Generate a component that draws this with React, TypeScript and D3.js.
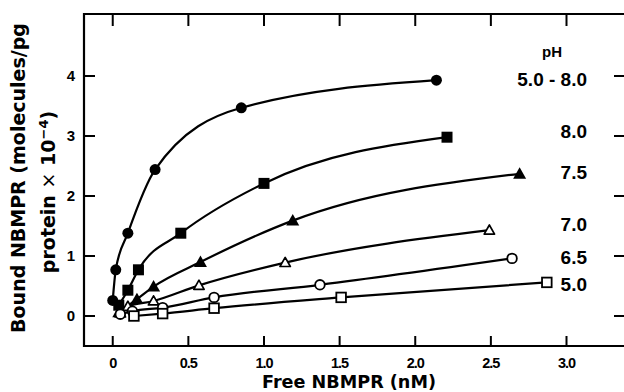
import React from "react";
import * as d3 from "d3";

// bound vs free NBMPR at different pH
const xTicks = [0, 0.5, 1.0, 1.5, 2.0, 2.5, 3.0];
const xTickLabels = ["0", "0.5", "1.0", "1.5", "2.0", "2.5", "3.0"];
const yTicks = [0, 1, 2, 3, 4];

const ph5to8 = [[0.0, 0.26], [0.02, 0.77], [0.10, 1.38], [0.28, 2.44], [0.85, 3.47], [2.14, 3.93]];
const ph80 = [[0.04, 0.18], [0.10, 0.43], [0.17, 0.77], [0.45, 1.38], [1.00, 2.21], [2.21, 2.98]];
const ph75 = [[0.04, 0.06], [0.16, 0.28], [0.27, 0.49], [0.58, 0.90], [1.19, 1.59], [2.69, 2.37]];
const ph70 = [[0.05, 0.05], [0.10, 0.16], [0.27, 0.25], [0.57, 0.51], [1.14, 0.89], [2.49, 1.43]];
const ph65 = [[0.05, 0.03], [0.13, 0.08], [0.33, 0.14], [0.67, 0.31], [1.37, 0.52], [2.64, 0.96]];
const ph50 = [[0.14, 0.0], [0.33, 0.04], [0.67, 0.13], [1.51, 0.31], [2.87, 0.56]];

const series = [ph5to8, ph80, ph75, ph70, ph65, ph50];
const markers = ["filledCircle", "filledSquare", "filledTriangle", "openTriangle", "openCircle", "openSquare"];
const legendLabels = ["5.0 - 8.0", "8.0", "7.5", "7.0", "6.5", "5.0"];
const legendBaselines = [86, 138, 179, 231, 264, 291];

const width = 624;
const height = 392;
const frame = { left: 84, top: 14, right: 627, bottom: 346 };
const font = "'Liberation Sans', Arial, Helvetica, sans-serif";
const titleFont = "'DejaVu Sans', Verdana, sans-serif";

const Marker = ({ kind, x, y }: { kind: string; x: number; y: number }) => {
    if (kind === "filledCircle") return <circle cx={x} cy={y} r={5.5} fill="black" />;
    if (kind === "openCircle") return <circle cx={x} cy={y} r={4.8} fill="white" stroke="black" strokeWidth={1.8} />;
    if (kind === "filledSquare") return <rect x={x - 5.5} y={y - 5.5} width={11} height={11} fill="black" />;
    if (kind === "openSquare") return <rect x={x - 4.8} y={y - 4.8} width={9.6} height={9.6} fill="white" stroke="black" strokeWidth={1.8} />;
    const s = kind === "filledTriangle" ? 6.5 : 5.2;
    const pts = `${x},${y - s} ${x - s},${y + s * 0.75} ${x + s},${y + s * 0.75}`;
    if (kind === "filledTriangle") return <polygon points={pts} fill="black" />;
    return <polygon points={pts} fill="white" stroke="black" strokeWidth={1.7} strokeLinejoin="round" />;
};

const App = () => {
    const xScale = d3.scaleLinear().domain([-0.19, 3.4]).range([frame.left, frame.right]);
    const yScale = d3.scaleLinear().domain([-0.5, 5]).range([frame.bottom, frame.bottom - 330]);

    const line = d3.line<number[]>()
        .x(d => xScale(d[0]))
        .y(d => yScale(d[1]))
        .curve(d3.curveMonotoneX);

    return (
        <div style={{ position: "absolute", left: 0, top: 0 }}>
            <svg width={width} height={height} style={{ display: "block", background: "white" }}>
                {/* frame */}
                <path
                    d={`M${frame.right},${frame.top} H${frame.left} V${frame.bottom} H${frame.right}`}
                    fill="none" stroke="black" strokeWidth={2.2}
                />
                {xTicks.map(t => (
                    <g key={"xt" + t}>
                        <line x1={xScale(t)} x2={xScale(t)} y1={frame.bottom} y2={frame.bottom - 10} stroke="black" strokeWidth={2} />
                        <line x1={xScale(t)} x2={xScale(t)} y1={frame.top} y2={frame.top + 12} stroke="black" strokeWidth={2} />
                    </g>
                ))}
                {yTicks.map(t => (
                    <g key={"yt" + t}>
                        <line x1={frame.left} x2={frame.left + 11} y1={yScale(t)} y2={yScale(t)} stroke="black" strokeWidth={2} />
                        <line x1={614} x2={frame.right} y1={yScale(t)} y2={yScale(t)} stroke="black" strokeWidth={2} />
                        <text x={75} y={yScale(t) + 5} textAnchor="end" fontFamily={font} fontWeight="bold" fontSize={15}>{t}</text>
                    </g>
                ))}
                {xTicks.map((t, i) => (
                    <text key={"xl" + t} x={xScale(t)} y={368} textAnchor="middle" fontFamily={font} fontWeight="bold" fontSize={14.5} letterSpacing={-1}>
                        {xTickLabels[i]}
                    </text>
                ))}

                {/* curves */}
                {series.map((s, i) => (
                    <path key={"l" + i} d={line(s) || ""} fill="none" stroke="black" strokeWidth={2.2} />
                ))}
                {series.map((s, i) => s.map((d, j) => (
                    <Marker key={`m${i}-${j}`} kind={markers[i]} x={xScale(d[0])} y={yScale(d[1])} />
                )))}

                {/* legend */}
                <text x={552} y={57} textAnchor="middle" fontFamily={font} fontWeight="bold" fontSize={15}>pH</text>
                {legendLabels.map((l, i) => (
                    <text key={"lg" + i} x={587} y={legendBaselines[i]} textAnchor="end" fontFamily={font} fontWeight="bold" fontSize={19}>{l}</text>
                ))}

                {/* axis titles */}
                <text x={349} y={388} textAnchor="middle" fontFamily={titleFont} fontWeight="bold" fontSize={17.6}>Free NBMPR (nM)</text>
                <text transform="translate(25,178) rotate(-90)" textAnchor="middle" fontFamily={titleFont} fontWeight="bold" fontSize={19}>
                    Bound NBMPR (molecules/pg
                </text>
                <text transform="translate(55,192) rotate(-90)" textAnchor="middle" fontFamily={titleFont} fontWeight="bold" fontSize={19}>
                    protein <tspan fontWeight="normal">×</tspan> 10<tspan dy={-7} fontSize={13}>−4</tspan><tspan dy={7}>)</tspan>
                </text>
            </svg>
        </div>
    );
};

export default App;
